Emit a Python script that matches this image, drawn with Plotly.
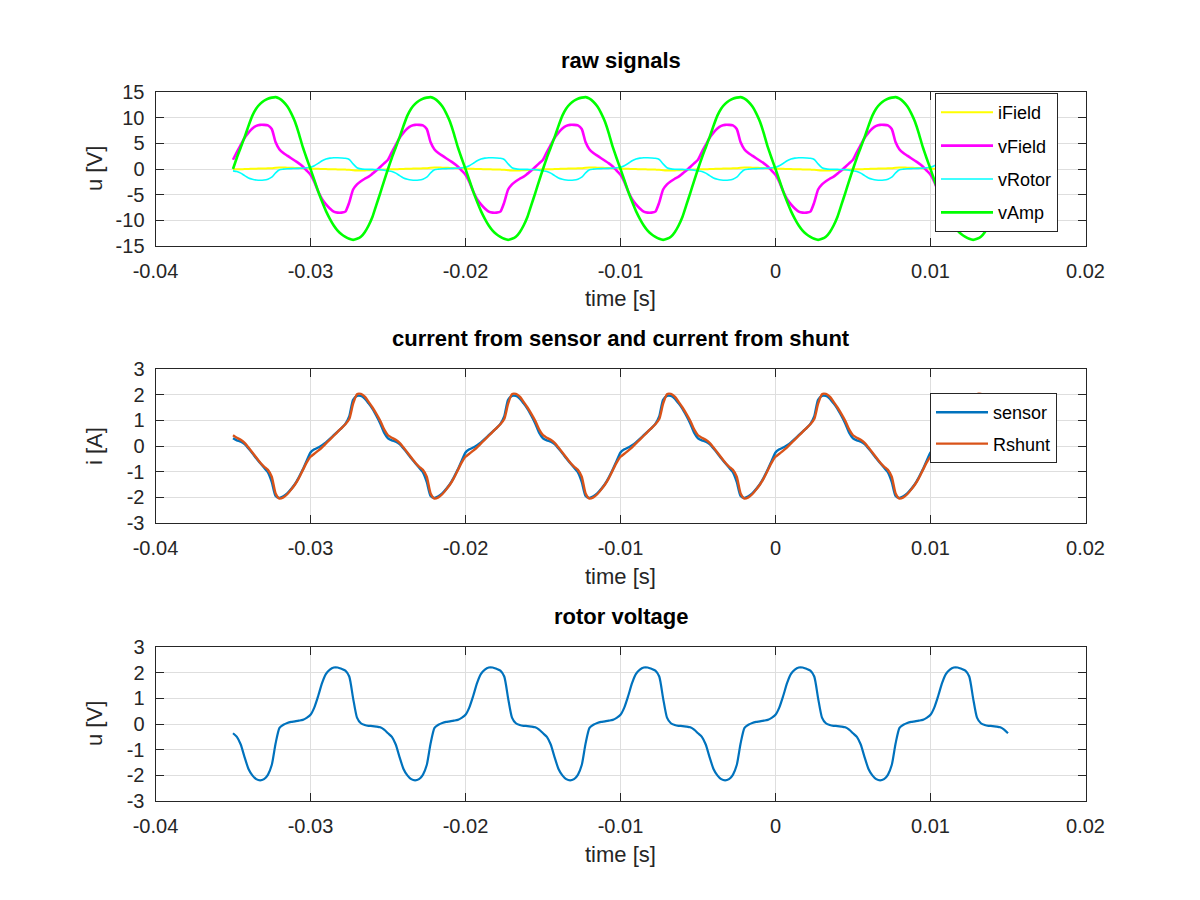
import numpy as np
import plotly.graph_objects as go

# time axis: -0.035 s .. 0.015 s, 0.25 ms sampling
t = np.linspace(-0.035, 0.015, 201)

x_tickvals = [-0.04, -0.03, -0.02, -0.01, 0.0, 0.01, 0.02]
x_ticktext = ["-0.04", "-0.03", "-0.02", "-0.01", "0", "0.01", "0.02"]
y1_tickvals = [-15, -10, -5, 0, 5, 10, 15]
y1_ticktext = ["-15", "-10", "-5", "0", "5", "10", "15"]
y23_tickvals = [-3, -2, -1, 0, 1, 2, 3]
y23_ticktext = ["-3", "-2", "-1", "0", "1", "2", "3"]

iField = [
    -0.06, -0.04, -0.03, -0.02, 0.01, 0.04, 0.06, 0.09, 0.11, 0.13, 0.17, 0.26, 0.29, 0.28, 0.26, 0.24, 0.21, 0.18, 0.13, 0.09,
    0.06, 0.04, 0.03, 0.01, -0.01, -0.04, -0.06, -0.08, -0.10, -0.12, -0.15, -0.23, -0.28, -0.28, -0.27, -0.24, -0.21, -0.18, -0.14, -0.09,
    -0.06, -0.04, -0.03, -0.02, 0.01, 0.04, 0.06, 0.09, 0.11, 0.13, 0.17, 0.26, 0.29, 0.28, 0.26, 0.24, 0.21, 0.18, 0.13, 0.09,
    0.06, 0.04, 0.03, 0.01, -0.01, -0.04, -0.06, -0.08, -0.10, -0.12, -0.15, -0.23, -0.28, -0.28, -0.27, -0.24, -0.21, -0.18, -0.14, -0.09,
    -0.06, -0.04, -0.03, -0.02, 0.01, 0.04, 0.06, 0.09, 0.11, 0.13, 0.17, 0.26, 0.29, 0.28, 0.26, 0.24, 0.21, 0.18, 0.13, 0.09,
    0.06, 0.04, 0.03, 0.01, -0.01, -0.04, -0.06, -0.08, -0.10, -0.12, -0.15, -0.23, -0.28, -0.28, -0.27, -0.24, -0.21, -0.18, -0.14, -0.09,
    -0.06, -0.04, -0.03, -0.02, 0.01, 0.04, 0.06, 0.09, 0.11, 0.13, 0.17, 0.26, 0.29, 0.28, 0.26, 0.24, 0.21, 0.18, 0.13, 0.09,
    0.06, 0.04, 0.03, 0.01, -0.01, -0.04, -0.06, -0.08, -0.10, -0.12, -0.15, -0.23, -0.28, -0.28, -0.27, -0.24, -0.21, -0.18, -0.14, -0.09,
    -0.06, -0.04, -0.03, -0.02, 0.01, 0.04, 0.06, 0.09, 0.11, 0.13, 0.17, 0.26, 0.29, 0.28, 0.26, 0.24, 0.21, 0.18, 0.13, 0.09,
    0.06, 0.04, 0.03, 0.01, -0.01, -0.04, -0.06, -0.08, -0.10, -0.12, -0.15, -0.23, -0.28, -0.28, -0.27, -0.24, -0.21, -0.18, -0.14, -0.09,
    -0.06,
]

vField = [
    1.8, 3.3, 4.7, 6.1, 7.1, 7.9, 8.4, 8.6, 8.6, 8.5, 7.8, 5.2, 3.8, 3.1, 2.6, 2.1, 1.6, 1.1, 0.5, -0.3,
    -1.1, -2.5, -4.4, -5.9, -6.9, -7.7, -8.3, -8.5, -8.5, -8.3, -6.5, -4.0, -3.0, -2.4, -1.9, -1.5, -0.9, -0.3, 0.4, 1.1,
    1.8, 3.3, 4.7, 6.1, 7.1, 7.9, 8.4, 8.6, 8.6, 8.5, 7.8, 5.2, 3.8, 3.1, 2.6, 2.1, 1.6, 1.1, 0.5, -0.3,
    -1.1, -2.5, -4.4, -5.9, -6.9, -7.7, -8.3, -8.5, -8.5, -8.3, -6.5, -4.0, -3.0, -2.4, -1.9, -1.5, -0.9, -0.3, 0.4, 1.1,
    1.8, 3.3, 4.7, 6.1, 7.1, 7.9, 8.4, 8.6, 8.6, 8.5, 7.8, 5.2, 3.8, 3.1, 2.6, 2.1, 1.6, 1.1, 0.5, -0.3,
    -1.1, -2.5, -4.4, -5.9, -6.9, -7.7, -8.3, -8.5, -8.5, -8.3, -6.5, -4.0, -3.0, -2.4, -1.9, -1.5, -0.9, -0.3, 0.4, 1.1,
    1.8, 3.3, 4.7, 6.1, 7.1, 7.9, 8.4, 8.6, 8.6, 8.5, 7.8, 5.2, 3.8, 3.1, 2.6, 2.1, 1.6, 1.1, 0.5, -0.3,
    -1.1, -2.5, -4.4, -5.9, -6.9, -7.7, -8.3, -8.5, -8.5, -8.3, -6.5, -4.0, -3.0, -2.4, -1.9, -1.5, -0.9, -0.3, 0.4, 1.1,
    1.8, 3.3, 4.7, 6.1, 7.1, 7.9, 8.4, 8.6, 8.6, 8.5, 7.8, 5.2, 3.8, 3.1, 2.6, 2.1, 1.6, 1.1, 0.5, -0.3,
    -1.1, -2.5, -4.4, -5.9, -6.9, -7.7, -8.3, -8.5, -8.5, -8.3, -6.5, -4.0, -3.0, -2.4, -1.9, -1.5, -0.9, -0.3, 0.4, 1.1,
    1.8,
]

vRotor = [
    -0.36, -0.50, -0.80, -1.30, -1.75, -2.00, -2.15, -2.20, -2.15, -1.98, -1.60, -0.75, -0.15, -0.03, 0.04, 0.08, 0.10, 0.13, 0.16, 0.24,
    0.36, 0.65, 1.10, 1.60, 1.95, 2.12, 2.20, 2.20, 2.15, 2.08, 1.85, 1.00, 0.25, 0.03, -0.04, -0.07, -0.08, -0.10, -0.13, -0.22,
    -0.36, -0.50, -0.80, -1.30, -1.75, -2.00, -2.15, -2.20, -2.15, -1.98, -1.60, -0.75, -0.15, -0.03, 0.04, 0.08, 0.10, 0.13, 0.16, 0.24,
    0.36, 0.65, 1.10, 1.60, 1.95, 2.12, 2.20, 2.20, 2.15, 2.08, 1.85, 1.00, 0.25, 0.03, -0.04, -0.07, -0.08, -0.10, -0.13, -0.22,
    -0.36, -0.50, -0.80, -1.30, -1.75, -2.00, -2.15, -2.20, -2.15, -1.98, -1.60, -0.75, -0.15, -0.03, 0.04, 0.08, 0.10, 0.13, 0.16, 0.24,
    0.36, 0.65, 1.10, 1.60, 1.95, 2.12, 2.20, 2.20, 2.15, 2.08, 1.85, 1.00, 0.25, 0.03, -0.04, -0.07, -0.08, -0.10, -0.13, -0.22,
    -0.36, -0.50, -0.80, -1.30, -1.75, -2.00, -2.15, -2.20, -2.15, -1.98, -1.60, -0.75, -0.15, -0.03, 0.04, 0.08, 0.10, 0.13, 0.16, 0.24,
    0.36, 0.65, 1.10, 1.60, 1.95, 2.12, 2.20, 2.20, 2.15, 2.08, 1.85, 1.00, 0.25, 0.03, -0.04, -0.07, -0.08, -0.10, -0.13, -0.22,
    -0.36, -0.50, -0.80, -1.30, -1.75, -2.00, -2.15, -2.20, -2.15, -1.98, -1.60, -0.75, -0.15, -0.03, 0.04, 0.08, 0.10, 0.13, 0.16, 0.24,
    0.36, 0.65, 1.10, 1.60, 1.95, 2.12, 2.20, 2.20, 2.15, 2.08, 1.85, 1.00, 0.25, 0.03, -0.04, -0.07, -0.08, -0.10, -0.13, -0.22,
    -0.36,
]

vAmp = [
    0.0, 2.2, 4.2, 6.2, 8.4, 10.4, 11.8, 12.7, 13.3, 13.7, 13.9, 14.0, 13.7, 13.1, 12.2, 10.9, 9.2, 6.9, 4.3, 2.1,
    0.0, -2.2, -4.4, -6.4, -8.2, -9.7, -11.0, -12.0, -12.7, -13.2, -13.6, -13.8, -13.6, -13.2, -12.3, -11.0, -9.3, -7.0, -4.7, -2.3,
    0.0, 2.2, 4.2, 6.2, 8.4, 10.4, 11.8, 12.7, 13.3, 13.7, 13.9, 14.0, 13.7, 13.1, 12.2, 10.9, 9.2, 6.9, 4.3, 2.1,
    0.0, -2.2, -4.4, -6.4, -8.2, -9.7, -11.0, -12.0, -12.7, -13.2, -13.6, -13.8, -13.6, -13.2, -12.3, -11.0, -9.3, -7.0, -4.7, -2.3,
    0.0, 2.2, 4.2, 6.2, 8.4, 10.4, 11.8, 12.7, 13.3, 13.7, 13.9, 14.0, 13.7, 13.1, 12.2, 10.9, 9.2, 6.9, 4.3, 2.1,
    0.0, -2.2, -4.4, -6.4, -8.2, -9.7, -11.0, -12.0, -12.7, -13.2, -13.6, -13.8, -13.6, -13.2, -12.3, -11.0, -9.3, -7.0, -4.7, -2.3,
    0.0, 2.2, 4.2, 6.2, 8.4, 10.4, 11.8, 12.7, 13.3, 13.7, 13.9, 14.0, 13.7, 13.1, 12.2, 10.9, 9.2, 6.9, 4.3, 2.1,
    0.0, -2.2, -4.4, -6.4, -8.2, -9.7, -11.0, -12.0, -12.7, -13.2, -13.6, -13.8, -13.6, -13.2, -12.3, -11.0, -9.3, -7.0, -4.7, -2.3,
    0.0, 2.2, 4.2, 6.2, 8.4, 10.4, 11.8, 12.7, 13.3, 13.7, 13.9, 14.0, 13.7, 13.1, 12.2, 10.9, 9.2, 6.9, 4.3, 2.1,
    0.0, -2.2, -4.4, -6.4, -8.2, -9.7, -11.0, -12.0, -12.7, -13.2, -13.6, -13.8, -13.6, -13.2, -12.3, -11.0, -9.3, -7.0, -4.7, -2.3,
    0.0,
]

i_sensor = [
    0.30, 0.22, 0.17, 0.07, -0.10, -0.28, -0.48, -0.66, -0.84, -1.02, -1.40, -1.95, -2.02, -1.96, -1.85, -1.68, -1.48, -1.22, -0.92, -0.58,
    -0.25, -0.13, -0.06, 0.03, 0.14, 0.28, 0.42, 0.56, 0.70, 0.86, 1.15, 1.80, 1.95, 1.95, 1.85, 1.66, 1.45, 1.18, 0.88, 0.52,
    0.30, 0.22, 0.17, 0.07, -0.10, -0.28, -0.48, -0.66, -0.84, -1.02, -1.40, -1.95, -2.02, -1.96, -1.85, -1.68, -1.48, -1.22, -0.92, -0.58,
    -0.25, -0.13, -0.06, 0.03, 0.14, 0.28, 0.42, 0.56, 0.70, 0.86, 1.15, 1.80, 1.95, 1.95, 1.85, 1.66, 1.45, 1.18, 0.88, 0.52,
    0.30, 0.22, 0.17, 0.07, -0.10, -0.28, -0.48, -0.66, -0.84, -1.02, -1.40, -1.95, -2.02, -1.96, -1.85, -1.68, -1.48, -1.22, -0.92, -0.58,
    -0.25, -0.13, -0.06, 0.03, 0.14, 0.28, 0.42, 0.56, 0.70, 0.86, 1.15, 1.80, 1.95, 1.95, 1.85, 1.66, 1.45, 1.18, 0.88, 0.52,
    0.30, 0.22, 0.17, 0.07, -0.10, -0.28, -0.48, -0.66, -0.84, -1.02, -1.40, -1.95, -2.02, -1.96, -1.85, -1.68, -1.48, -1.22, -0.92, -0.58,
    -0.25, -0.13, -0.06, 0.03, 0.14, 0.28, 0.42, 0.56, 0.70, 0.86, 1.15, 1.80, 1.95, 1.95, 1.85, 1.66, 1.45, 1.18, 0.88, 0.52,
    0.30, 0.22, 0.17, 0.07, -0.10, -0.28, -0.48, -0.66, -0.84, -1.02, -1.40, -1.95, -2.02, -1.96, -1.85, -1.68, -1.48, -1.22, -0.92, -0.58,
    -0.25, -0.13, -0.06, 0.03, 0.14, 0.28, 0.42, 0.56, 0.70, 0.86, 1.15, 1.80, 1.95, 1.95, 1.85, 1.66, 1.45, 1.18, 0.88, 0.52,
    0.30,
]

i_shunt = [
    0.42, 0.32, 0.24, 0.12, -0.06, -0.25, -0.45, -0.64, -0.80, -0.93, -1.20, -1.85, -2.05, -2.00, -1.88, -1.70, -1.50, -1.25, -0.95, -0.65,
    -0.42, -0.30, -0.18, -0.05, 0.10, 0.25, 0.40, 0.55, 0.70, 0.85, 1.05, 1.65, 2.02, 2.03, 1.92, 1.72, 1.50, 1.25, 0.98, 0.65,
    0.42, 0.32, 0.24, 0.12, -0.06, -0.25, -0.45, -0.64, -0.80, -0.93, -1.20, -1.85, -2.05, -2.00, -1.88, -1.70, -1.50, -1.25, -0.95, -0.65,
    -0.42, -0.30, -0.18, -0.05, 0.10, 0.25, 0.40, 0.55, 0.70, 0.85, 1.05, 1.65, 2.02, 2.03, 1.92, 1.72, 1.50, 1.25, 0.98, 0.65,
    0.42, 0.32, 0.24, 0.12, -0.06, -0.25, -0.45, -0.64, -0.80, -0.93, -1.20, -1.85, -2.05, -2.00, -1.88, -1.70, -1.50, -1.25, -0.95, -0.65,
    -0.42, -0.30, -0.18, -0.05, 0.10, 0.25, 0.40, 0.55, 0.70, 0.85, 1.05, 1.65, 2.02, 2.03, 1.92, 1.72, 1.50, 1.25, 0.98, 0.65,
    0.42, 0.32, 0.24, 0.12, -0.06, -0.25, -0.45, -0.64, -0.80, -0.93, -1.20, -1.85, -2.05, -2.00, -1.88, -1.70, -1.50, -1.25, -0.95, -0.65,
    -0.42, -0.30, -0.18, -0.05, 0.10, 0.25, 0.40, 0.55, 0.70, 0.85, 1.05, 1.65, 2.02, 2.03, 1.92, 1.72, 1.50, 1.25, 0.98, 0.65,
    0.42, 0.32, 0.24, 0.12, -0.06, -0.25, -0.45, -0.64, -0.80, -0.93, -1.20, -1.85, -2.05, -2.00, -1.88, -1.70, -1.50, -1.25, -0.95, -0.65,
    -0.42, -0.30, -0.18, -0.05, 0.10, 0.25, 0.40, 0.55, 0.70, 0.85, 1.05, 1.65, 2.02, 2.03, 1.92, 1.72, 1.50, 1.25, 0.98, 0.65,
    0.42,
]

W, H = 1200, 900
OFF = 8  # page margin of the html body
AX_L, AX_R = 155.5 - OFF, 1085.5 - OFF
TOPS = [92 - OFF, 369 - OFF, 647 - OFF]
AX_H = 154

FONT = "Liberation Sans, Arial, sans-serif"
AXC = "#262626"
GRID = "#dedede"

fig = go.Figure()

fig.add_trace(go.Scatter(x=t, y=iField, name="iField", mode="lines", line=dict(color="#ffff00", width=2, shape="spline", smoothing=0.6),
                         xaxis="x", yaxis="y", legend="legend", legendgroup="a"))
fig.add_trace(go.Scatter(x=t, y=vField, name="vField", mode="lines", line=dict(color="#ff00ff", width=2.6, shape="spline", smoothing=0.6),
                         xaxis="x", yaxis="y", legend="legend", legendgroup="b"))
fig.add_trace(go.Scatter(x=t, y=vRotor, name="vRotor", mode="lines", line=dict(color="#00ffff", width=1.6, shape="spline", smoothing=0.6),
                         xaxis="x", yaxis="y", legend="legend", legendgroup="c"))
fig.add_trace(go.Scatter(x=t, y=vAmp, name="vAmp", mode="lines", line=dict(color="#00ff00", width=2.6, shape="spline", smoothing=0.6),
                         xaxis="x", yaxis="y", legend="legend", legendgroup="d"))

fig.add_trace(go.Scatter(x=t, y=i_sensor, name="sensor", mode="lines", line=dict(color="#0072bd", width=2.4, shape="spline", smoothing=0.6),
                         xaxis="x2", yaxis="y2", legend="legend2", legendgroup="e"))
fig.add_trace(go.Scatter(x=t, y=i_shunt, name="Rshunt", mode="lines", line=dict(color="#d95319", width=2.4, shape="spline", smoothing=0.6),
                         xaxis="x2", yaxis="y2", legend="legend2", legendgroup="f"))

fig.add_trace(go.Scatter(x=t, y=vRotor, name="rotor", mode="lines", line=dict(color="#0072bd", width=2.2, shape="spline", smoothing=0.6),
                         xaxis="x3", yaxis="y3", showlegend=False))


def xax(anchor):
    return dict(domain=[AX_L / W, AX_R / W], range=[-0.04, 0.02], anchor=anchor, automargin=False,
                tickvals=x_tickvals, ticktext=x_ticktext, ticks="inside", ticklen=8, tickwidth=1,
                tickcolor=AXC, showline=True, linecolor=AXC, linewidth=1, mirror="ticks",
                showgrid=True, gridcolor=GRID, gridwidth=1, zeroline=False,
                tickfont=dict(family=FONT, size=20, color=AXC), ticklabelstandoff=7)


def yax(anchor, top, rng, vals, text):
    return dict(domain=[1 - (top + AX_H) / H, 1 - top / H], range=rng, anchor=anchor, automargin=False,
                tickvals=vals, ticktext=text, ticks="inside", ticklen=8, tickwidth=1,
                tickcolor=AXC, showline=True, linecolor=AXC, linewidth=1, mirror="ticks",
                showgrid=True, gridcolor=GRID, gridwidth=1, zeroline=False,
                tickfont=dict(family=FONT, size=20, color=AXC), ticklabelstandoff=6)


annotations = []
titles = ["raw signals", "current from sensor and current from shunt", "rotor voltage"]
ylabels = ["u [V]", "i [A]", "u [V]"]
cx = (AX_L + AX_R) / 2 / W
for k in range(3):
    top = TOPS[k]
    annotations.append(dict(text="<b>" + titles[k] + "</b>", x=cx, y=1 - (top - 31) / H, xref="paper", yref="paper",
                            showarrow=False, xanchor="center", yanchor="middle",
                            font=dict(family=FONT, size=22, color="#000000")))
    annotations.append(dict(text="time [s]", x=cx, y=1 - (top + AX_H + 53) / H, xref="paper", yref="paper",
                            showarrow=False, xanchor="center", yanchor="middle",
                            font=dict(family=FONT, size=22, color=AXC)))
    annotations.append(dict(text=ylabels[k], x=(94 - OFF) / W, y=1 - (top + AX_H / 2) / H, xref="paper", yref="paper",
                            showarrow=False, xanchor="center", yanchor="middle", textangle=-90,
                            font=dict(family=FONT, size=22, color=AXC)))

fig.update_layout(
    width=W, height=H, margin=dict(l=0, r=0, t=0, b=0, pad=0, autoexpand=False),
    paper_bgcolor="white", plot_bgcolor="white",
    xaxis=xax("y"), yaxis=yax("x", TOPS[0], [-15, 15], y1_tickvals, y1_ticktext),
    xaxis2=xax("y2"), yaxis2=yax("x2", TOPS[1], [-3, 3], y23_tickvals, y23_ticktext),
    xaxis3=xax("y3"), yaxis3=yax("x3", TOPS[2], [-3, 3], y23_tickvals, y23_ticktext),
    annotations=annotations,
    legend=dict(x=(935 - OFF) / W, y=1 - (93 - OFF) / H, xanchor="left", yanchor="top", bgcolor="white",
                bordercolor=AXC, borderwidth=1, font=dict(family=FONT, size=18, color="#000000"),
                tracegroupgap=7, itemwidth=52),
    legend2=dict(x=(930 - OFF) / W, y=1 - (393 - OFF) / H, xanchor="left", yanchor="top", bgcolor="white",
                 bordercolor=AXC, borderwidth=1, font=dict(family=FONT, size=18, color="#000000"),
                 tracegroupgap=5, itemwidth=52),
    showlegend=True,
)

fig.write_html("out.html")
